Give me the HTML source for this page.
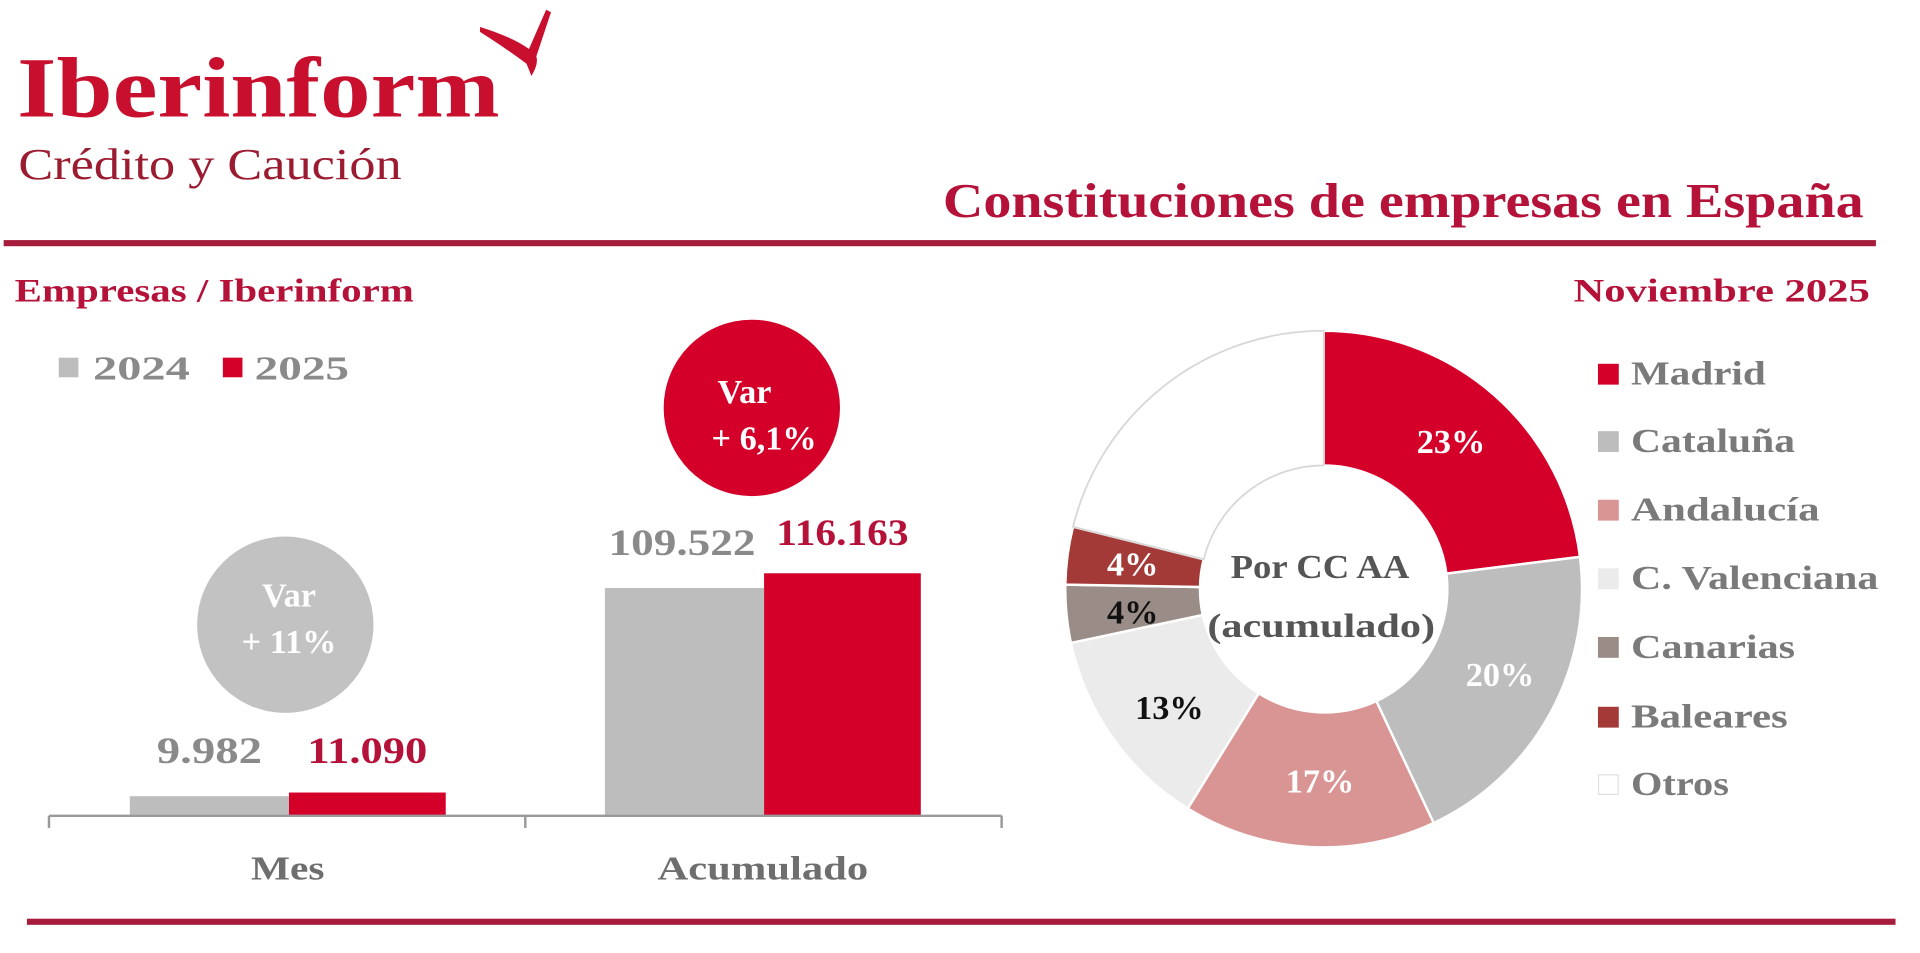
<!DOCTYPE html>
<html><head><meta charset="utf-8"><style>
html,body{margin:0;padding:0;background:#fff;overflow:hidden}
svg{display:block}
text{font-family:"Liberation Serif",serif;font-weight:bold}
</style></head><body>
<svg width="1920" height="953" viewBox="0 0 1568 778" preserveAspectRatio="none" xmlns="http://www.w3.org/2000/svg">
<text x="14" y="95" font-size="70" fill="#c8102e" textLength="394" lengthAdjust="spacingAndGlyphs">Iberinform</text>
<path d="M392 22 Q418 30 432 40 L446 8 L450 10 L438 46 Q440 52 434 62 L430 52 Q414 40 392 26 Z" fill="#c8102e"/>
<text x="15" y="146" font-size="36" fill="#9b1b30" style="font-weight:normal" textLength="313" lengthAdjust="spacingAndGlyphs">Crédito y Caución</text>
<text x="770" y="177" font-size="40" fill="#b5123a" textLength="752" lengthAdjust="spacingAndGlyphs">Constituciones de empresas en España</text>
<rect x="3" y="196" width="1529" height="5" fill="#a61c3c"/>
<text x="12" y="246" font-size="27" fill="#b5123a" textLength="326" lengthAdjust="spacingAndGlyphs">Empresas / Iberinform</text>
<text x="1527" y="246" font-size="27" fill="#b5123a" text-anchor="end" textLength="242" lengthAdjust="spacingAndGlyphs">Noviembre 2025</text>
<rect x="48" y="292" width="16" height="16" fill="#bdbdbd"/>
<text x="76" y="310" font-size="28" fill="#8a8a8a" textLength="79" lengthAdjust="spacingAndGlyphs">2024</text>
<rect x="182" y="292" width="16" height="16" fill="#d4002a"/>
<text x="208" y="310" font-size="28" fill="#8a8a8a" textLength="77" lengthAdjust="spacingAndGlyphs">2025</text>
<rect x="106" y="650" width="130" height="16" fill="#bdbdbd"/>
<rect x="236" y="647" width="128" height="19" fill="#d4002a"/>
<rect x="494" y="480" width="130" height="186" fill="#bdbdbd"/>
<rect x="624" y="468" width="128" height="198" fill="#d4002a"/>
<path d="M40 666 H818 M40 666 V676 M429 666 V676 M818 666 V676" stroke="#9a9a9a" stroke-width="2" fill="none"/>
<text x="171" y="623" font-size="30" fill="#8a8a8a" text-anchor="middle" textLength="86" lengthAdjust="spacingAndGlyphs">9.982</text>
<text x="300" y="623" font-size="30" fill="#b5123a" text-anchor="middle" textLength="98" lengthAdjust="spacingAndGlyphs">11.090</text>
<text x="557" y="453" font-size="30" fill="#8a8a8a" text-anchor="middle" textLength="120" lengthAdjust="spacingAndGlyphs">109.522</text>
<text x="688" y="445" font-size="30" fill="#b5123a" text-anchor="middle" textLength="108" lengthAdjust="spacingAndGlyphs">116.163</text>
<text x="235" y="718" font-size="28" fill="#6e6e6e" text-anchor="middle" textLength="60" lengthAdjust="spacingAndGlyphs">Mes</text>
<text x="623" y="718" font-size="28" fill="#6e6e6e" text-anchor="middle" textLength="172" lengthAdjust="spacingAndGlyphs">Acumulado</text>
<circle cx="233" cy="510" r="72" fill="#c2c2c2"/>
<text x="236" y="495" font-size="28" fill="#fff" text-anchor="middle">Var</text>
<text x="236" y="533" font-size="28" fill="#fff" text-anchor="middle">+ 11%</text>
<circle cx="614" cy="333" r="72" fill="#d4002a"/>
<text x="608" y="329" font-size="28" fill="#fff" text-anchor="middle">Var</text>
<text x="624" y="367" font-size="28" fill="#fff" text-anchor="middle">+ 6,1%</text>
<g stroke="#fff" stroke-width="2">
<path d="M1081 270 A211 211 0 0 1 1290.3 454.6 L1181.2 468.3 A101 101 0 0 0 1081 380 Z" fill="#d4002a"/>
<path d="M1290.3 454.6 A211 211 0 0 1 1170.8 671.9 L1124 572.4 A101 101 0 0 0 1181.2 468.3 Z" fill="#bdbdbd"/>
<path d="M1170.8 671.9 A211 211 0 0 1 970 660 L1028 566 A101 101 0 0 0 1124 572.4 Z" fill="#d99494"/>
<path d="M970 660 A211 211 0 0 1 874.6 524.9 L982.2 502 A101 101 0 0 0 1028 566 Z" fill="#ebebeb"/>
<path d="M874.6 524.9 A211 211 0 0 1 870 477.3 L980 479.2 A101 101 0 0 0 982.2 502 Z" fill="#9a8c86"/>
<path d="M870 477.3 A211 211 0 0 1 876.3 430 L983 456.6 A101 101 0 0 0 980 479.2 Z" fill="#a33a38"/>
</g>
<path d="M876.3 430 A211 211 0 0 1 1081 270 L1081 380 A101 101 0 0 0 983 456.6 Z" fill="#fff" stroke="#d8d8d8" stroke-width="1.5"/>
<text x="1185" y="370" font-size="28" fill="#fff" text-anchor="middle">23%</text>
<text x="1225" y="560" font-size="28" fill="#fff" text-anchor="middle">20%</text>
<text x="1078" y="647" font-size="28" fill="#fff" text-anchor="middle">17%</text>
<text x="955" y="587" font-size="28" fill="#111" text-anchor="middle">13%</text>
<text x="925" y="509" font-size="28" fill="#111" text-anchor="middle">4%</text>
<text x="925" y="470" font-size="28" fill="#fff" text-anchor="middle">4%</text>
<text x="1078" y="472" font-size="28" fill="#555" text-anchor="middle" textLength="146" lengthAdjust="spacingAndGlyphs">Por CC AA</text>
<text x="1079" y="520" font-size="28" fill="#555" text-anchor="middle" textLength="186" lengthAdjust="spacingAndGlyphs">(acumulado)</text>
<g font-size="28" fill="#7a7a7a">
<rect x="1305" y="297" width="17" height="17" fill="#d4002a"/><text x="1332" y="314" textLength="110" lengthAdjust="spacingAndGlyphs">Madrid</text>
<rect x="1305" y="352" width="17" height="17" fill="#bdbdbd"/><text x="1332" y="369" textLength="134" lengthAdjust="spacingAndGlyphs">Cataluña</text>
<rect x="1305" y="408" width="17" height="17" fill="#d99494"/><text x="1332" y="425" textLength="154" lengthAdjust="spacingAndGlyphs">Andalucía</text>
<rect x="1305" y="464" width="17" height="17" fill="#ebebeb"/><text x="1332" y="481" textLength="202" lengthAdjust="spacingAndGlyphs">C. Valenciana</text>
<rect x="1305" y="520" width="17" height="17" fill="#9a8c86"/><text x="1332" y="537" textLength="134" lengthAdjust="spacingAndGlyphs">Canarias</text>
<rect x="1305" y="577" width="17" height="17" fill="#a33a38"/><text x="1332" y="594" textLength="128" lengthAdjust="spacingAndGlyphs">Baleares</text>
<rect x="1305.5" y="632.5" width="16" height="16" fill="#fff" stroke="#e0e0e0"/><text x="1332" y="649" textLength="80" lengthAdjust="spacingAndGlyphs">Otros</text>
</g>
<rect x="22" y="750" width="1526" height="5" fill="#a61c3c"/>
</svg>
</body></html>
